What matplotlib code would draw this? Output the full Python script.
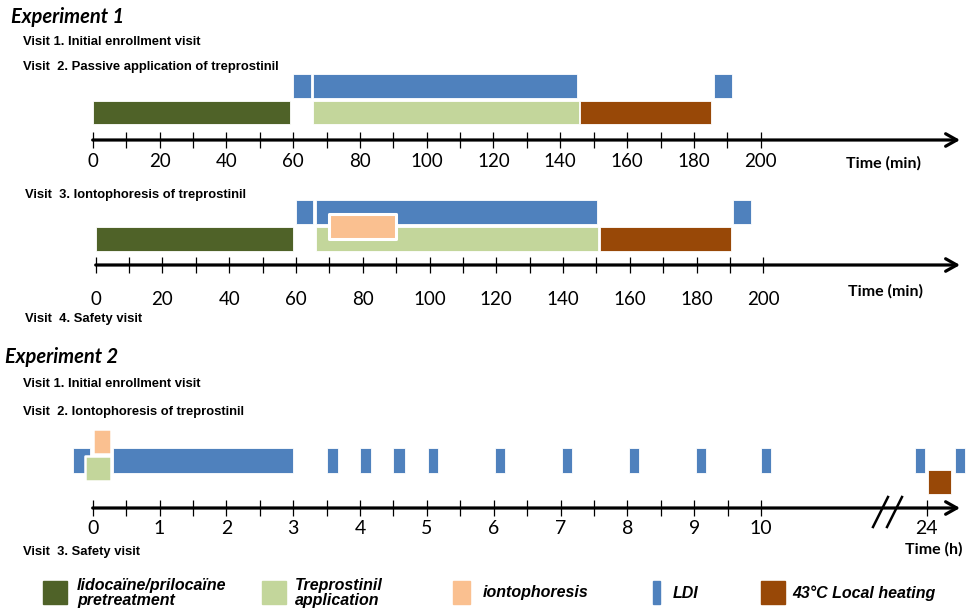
import numpy as np
import matplotlib
matplotlib.use('Agg')
import matplotlib.pyplot as plt
from matplotlib.lines import Line2D
from matplotlib.patches import Rectangle
from matplotlib.ticker import NullLocator

W, H = 968, 616

# colours
C_LIDO = '#4F6228'
C_TREP = '#C3D69B'
C_IONTO = '#FAC090'
C_LDI = '#4F81BD'
C_HEAT = '#984807'

# Experiment 1, visit 2 (minutes), (start, end)
v2_lido = [(0, 59)]
v2_trep = [(66, 145.5)]
v2_ldi = [(60, 65.3), (66, 145), (186, 191.3)]
v2_heat = [(146, 185)]

# Experiment 1, visit 3 (minutes)
v3_lido = [(0, 59.2)]
v3_trep = [(66, 150.5)]
v3_ldi = [(60, 65.2), (66, 150.3), (191, 196.2)]
v3_heat = [(151, 190.2)]
v3_ionto = [(70, 90)]

min_ticks = list(range(0, 201, 10))
min_labels = [str(v) if v % 20 == 0 else '' for v in min_ticks]

# Experiment 2 (hours)
e2_ldi = [(-0.3, -0.04), (0.3, 3.0), (3.5, 3.67), (4.0, 4.17), (4.5, 4.67),
          (5.02, 5.17), (6.02, 6.17), (7.02, 7.17), (8.02, 8.17), (9.02, 9.17),
          (10.0, 10.15), (23.83, 23.98), (24.42, 24.57)]
e2_trep = [(-0.12, 0.27)]
e2_ionto = [(0, 0.27)]
e2_heat = [(24.02, 24.37)]

h_ticks = [i / 2 for i in range(21)] + [24]
h_labels = [str(int(v)) if v == int(v) else '' for v in h_ticks]

legend_labels = ['lidocaïne/prilocaïne\npretreatment', 'Treprostinil\napplication',
                 'iontophoresis', 'LDI', '43°C Local heating']
legend_colors = [C_LIDO, C_TREP, C_IONTO, C_LDI, C_HEAT]

# broken time axis for experiment 2 (10 h .. 24 h squeezed)
BRK_T = [-50, 11.8, 23.5, 60]
BRK_P = [-50, 11.8, 11.98, 48.48]


def fwd(t):
    return np.interp(t, BRK_T, BRK_P)


def inv(p):
    return np.interp(p, BRK_P, BRK_T)


fig = plt.figure(figsize=(W / 100, H / 100), dpi=100)
fig.patch.set_facecolor('white')


def ftext(x, y, s, **kw):
    fig.text(x / W, 1 - y / H, s, **kw)


def timeline(axis_px, top_px, x0_px, ppu, ticks, labels, pad, size, scale=None):
    ax = fig.add_axes([0, 1 - axis_px / H, 1, (axis_px - top_px) / H])
    ax.patch.set_alpha(0)
    left, right = -x0_px / ppu, (W - x0_px) / ppu
    end = (960 - x0_px) / ppu
    if scale is not None:
        ax.set_xscale('function', functions=scale)
        left, right, end = inv(left), inv(right), inv(end)
    ax.set_xlim(left, right)
    ax.set_ylim(axis_px, top_px)
    for s in ax.spines:
        ax.spines[s].set_visible(False)
    ax.set_yticks([])
    ax.set_xticks(ticks)
    ax.set_xticklabels(labels)
    ax.xaxis.set_minor_locator(NullLocator())
    ax.tick_params(axis='x', direction='inout', length=12, width=0.9, pad=pad,
                   labelsize=size)
    for t in ax.get_xticklabels():
        t.set_fontfamily('Lato')
    ax.annotate('', xy=(end, axis_px), xytext=(0, axis_px),
                arrowprops=dict(arrowstyle='->,head_length=0.8,head_width=0.45',
                                lw=2.3, color='black', shrinkA=0, shrinkB=0),
                annotation_clip=False)
    return ax


def bars(ax, spans, y0, y1, color, lw=0.6, z=2):
    ax.broken_barh([(a, b - a) for a, b in spans], (y0, y1 - y0),
                   facecolors=color, edgecolors='white', linewidth=lw, zorder=z)


# ---- Experiment 1 ----
ftext(11, 17, 'Experiment 1', fontsize=14.5, fontweight='bold', style='italic',
      family='Lato', va='center')
vk = dict(fontsize=9.4, fontweight='bold', family='Liberation Sans', va='center')
ftext(23, 42, 'Visit 1. Initial enrollment visit', **vk)
ftext(23, 67, 'Visit  2. Passive application of treprostinil', **vk)

ax1 = timeline(140, 60, 92.7, 3.34, min_ticks, min_labels, 3.5, 13.5)
bars(ax1, v2_ldi, 74, 97.5, C_LDI)
bars(ax1, v2_lido, 100.5, 124, C_LIDO)
bars(ax1, v2_trep, 100.5, 124, C_TREP)
bars(ax1, v2_heat, 100.5, 124, C_HEAT)
ftext(884, 163, 'Time (min)', fontsize=11.5, fontweight='bold', family='Lato',
      ha='center', va='center')

ftext(25, 195, 'Visit  3. Iontophoresis of treprostinil', **vk)
ax2 = timeline(265, 190, 95.7, 3.338, min_ticks, min_labels, 13, 13.5)
bars(ax2, v3_ldi, 200, 224.3, C_LDI)
bars(ax2, v3_lido, 227, 251, C_LIDO)
bars(ax2, v3_trep, 227, 251, C_TREP)
bars(ax2, v3_heat, 227, 251, C_HEAT)
bars(ax2, v3_ionto, 213.5, 239, C_IONTO, lw=2.2, z=3)
ftext(886, 291, 'Time (min)', fontsize=11.5, fontweight='bold', family='Lato',
      ha='center', va='center')
ftext(25, 319, 'Visit  4. Safety visit', **vk)

# ---- Experiment 2 ----
ftext(5, 357, 'Experiment 2', fontsize=14.5, fontweight='bold', style='italic',
      family='Lato', va='center')
ftext(23, 384, 'Visit 1. Initial enrollment visit', **vk)
ftext(23, 412, 'Visit  2. Iontophoresis of treprostinil', **vk)

ax3 = timeline(508, 420, 92.7, 66.83, h_ticks, h_labels, 2.5, 14, scale=(fwd, inv))
bars(ax3, e2_ldi, 448, 472.5, C_LDI)
bars(ax3, e2_heat, 469.5, 493.5, C_HEAT)
bars(ax3, e2_trep, 455.5, 481, C_TREP, lw=1.8, z=3)
bars(ax3, e2_ionto, 429, 454, C_IONTO, lw=1.8, z=3)
for dx in (0, 14):
    fig.add_artist(Line2D([(873 + dx) / W, (888 + dx) / W],
                          [1 - 527 / H, 1 - 497 / H], color='black', lw=1.8))
ftext(934, 549, 'Time (h)', fontsize=11.5, fontweight='bold', family='Lato',
      ha='center', va='center')
ftext(23, 552, 'Visit  3. Safety visit', **vk)

# ---- legend ----
sw_x = [42.7, 261.7, 453.3, 653.3, 760.7]
sw_w = [24, 24, 17, 7, 24]
tx_x = [77, 295, 482.7, 673, 792.7]
for x, w, tx, lab, col in zip(sw_x, sw_w, tx_x, legend_labels, legend_colors):
    fig.add_artist(Rectangle((x / W, 1 - 604 / H), w / W, 23 / H, color=col,
                             transform=fig.transFigure))
    ftext(tx, 593, lab, fontsize=11.5, fontweight='bold', style='italic',
          family='Liberation Sans', va='center', linespacing=0.95)

fig.savefig('out.png', dpi=100, facecolor='white')
